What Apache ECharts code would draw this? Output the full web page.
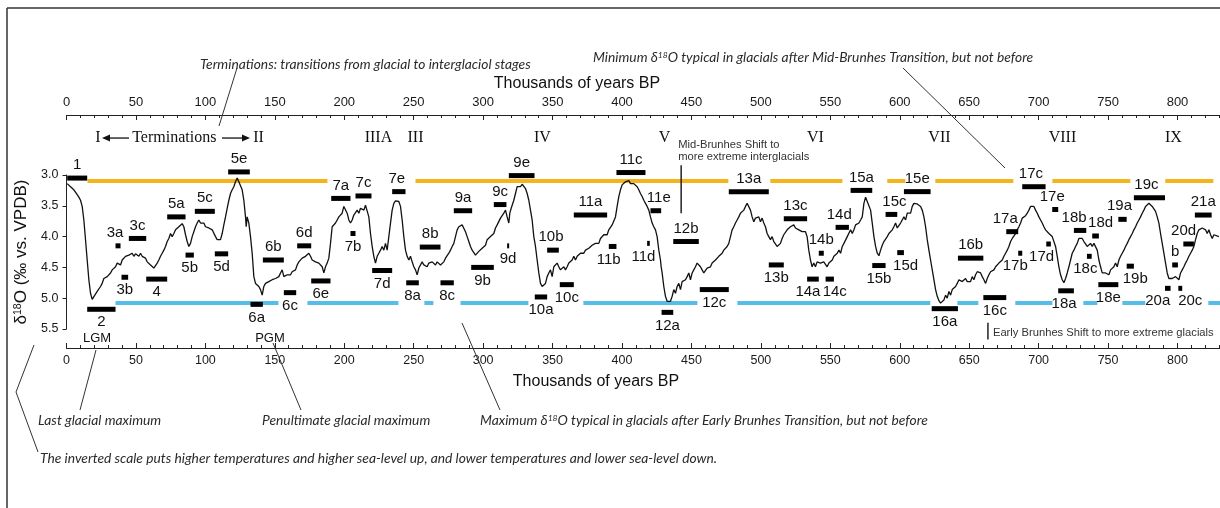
<!DOCTYPE html>
<html>
<head>
<meta charset="utf-8">
<script src="https://cdn.jsdelivr.net/npm/echarts@6.0.0/dist/echarts.min.js"></script>
<style>
  html, body { margin: 0; padding: 0; background: #fff; }
  #chart { width: 1220px; height: 508px; }
</style>
</head>
<body>
<div id="chart"></div>
<script>
// Benthic δ18O stack, 0–830 ka, in three pieces: [age (ka), δ18O (‰)]
const curve0to270 = [
  [0.5,3.14],[2.9,3.19],[5.3,3.24],[7.7,3.32],[8.9,3.36],[10.1,3.41],[11.3,3.51],[12.5,3.73],[13.7,4.05],[14.9,4.38],
  [16.1,4.70],[17.3,4.92],[18.5,5.02],[20.4,4.95],[22.1,4.89],[24.5,4.81],[25.7,4.76],[26.9,4.68],[28.1,4.70],[29.3,4.65],
  [30.5,4.62],[31.7,4.59],[32.9,4.54],[34.1,4.51],[35.3,4.49],[36.5,4.43],[37.7,4.41],[38.9,4.46],[40.1,4.38],[41.3,4.35],
  [42.5,4.32],[43.7,4.35],[44.9,4.30],[46.1,4.32],[47.3,4.27],[48.5,4.32],[49.7,4.28],[50.9,4.31],[52.1,4.32],[53.3,4.27],
  [54.5,4.32],[55.7,4.30],[56.9,4.35],[58.1,4.41],[59.3,4.38],[60.5,4.46],[61.7,4.49],[62.9,4.51],[64.1,4.54],[65.3,4.43],
  [66.5,4.38],[67.7,4.32],[68.9,4.27],[70.1,4.22],[71.3,4.16],[72.5,4.08],[73.7,4.03],[74.9,3.95],[76.1,4.00],[77.3,3.95],
  [78.5,3.89],[79.7,3.86],[80.9,3.84],[82.1,3.81],[83.3,3.79],[84.5,3.84],[85.7,3.97],[86.9,4.08],[88.1,4.16],[89.3,4.11],
  [90.5,4.00],[91.7,3.92],[92.9,3.84],[94.1,3.78],[95.3,3.73],[96.5,3.78],[97.7,3.81],[98.9,3.78],[100.1,3.84],[101.3,3.81],
  [102.5,3.86],[103.7,3.84],[104.9,3.89],[106.1,3.92],[107.3,4.00],[108.5,4.05],[109.7,4.08],[110.9,4.05],[112.1,3.95],[113.3,3.81],
  [114.5,3.68],[115.7,3.54],[116.9,3.41],[118.1,3.30],[119.3,3.24],[120.5,3.19],[121.7,3.11],[122.9,3.05],[124.1,3.11],[125.3,3.08],
  [126.5,3.24],[127.7,3.41],[128.9,3.68],[129.4,3.84],[130.1,3.68],[131.3,3.78],[132.5,4.00],[133.7,4.27],[134.9,4.65],[136.1,4.76],
  [137.3,4.78],[138.5,4.81],[139.7,4.86],[140.9,4.95],[142.1,4.81],[143.3,4.76],[144.5,4.78],[145.7,4.73],[146.9,4.76],[148.1,4.70],
  [149.3,4.73],[150.5,4.68],[151.7,4.70],[152.9,4.65],[154.1,4.59],[155.3,4.54],[156.5,4.65],[157.7,4.68],[158.9,4.62],[160.1,4.65],
  [161.3,4.62],[162.5,4.57],[163.7,4.59],[164.9,4.54],[166.1,4.46],[167.3,4.41],[168.5,4.43],[169.7,4.35],[170.9,4.38],[172.1,4.32],
  [173.3,4.35],[174.5,4.27],[175.7,4.32],[176.9,4.38],[178.1,4.35],[179.3,4.41],[180.5,4.38],[181.7,4.43],[182.9,4.41],[184.1,4.49],
  [185.3,4.59],[186.5,4.49],[187.7,4.43],[188.9,4.35],[190.1,4.11],[191.3,3.84],[192.5,3.81],[193.7,3.78],[194.9,3.73],[196.1,3.68],
  [197.3,3.68],[198.5,3.62],[199.7,3.51],[200.9,3.54],[202.1,3.62],[203.3,3.73],[204.5,3.78],[205.7,3.73],[206.9,3.65],[208.1,3.62],
  [209.3,3.57],[210.5,3.62],[211.7,3.54],[212.9,3.51],[214.1,3.57],[215.3,3.49],[216.5,3.46],[217.7,3.68],[218.9,3.95],[220.1,4.16],
  [221.3,4.32],[222.5,4.43],[223.7,4.32],[224.9,4.27],[226.1,4.22],[227.3,4.16],[228.5,4.22],[229.7,4.11],[230.9,4.22],[232.1,4.00],
  [233.3,3.78],[234.5,3.57],[235.7,3.46],[236.9,3.42],[238.1,3.41],[239.3,3.43],[240.5,3.51],[241.7,3.73],[242.9,4.00],[244.1,4.22],
  [245.3,4.32],[246.5,4.38],[247.7,4.32],[248.9,4.41],[250.1,4.49],[251.3,4.54],[252.5,4.62],[253.7,4.51],[254.9,4.49],[256.1,4.41],
  [257.3,4.46],[258.5,4.43],[259.7,4.49],[260.9,4.43],[262.1,4.46],[263.3,4.41],[264.5,4.43],[265.7,4.46],[266.9,4.41],[268.1,4.43]
];
const curve270to550 = [
  [269.3,4.46],[270.5,4.43],[271.7,4.41],[272.9,4.35],[274.1,4.32],[275.3,4.27],[276.5,4.22],[277.7,4.16],[278.9,4.11],[280.1,4.00],
  [281.3,3.89],[282.5,3.84],[283.7,3.81],[284.9,3.81],[286.1,3.84],[287.3,3.92],[288.5,4.00],[289.7,4.08],[290.9,4.16],[292.1,4.22],
  [293.3,4.24],[294.5,4.30],[295.7,4.27],[296.9,4.24],[298.1,4.27],[299.3,4.19],[300.5,4.16],[301.7,4.14],[302.9,4.05],[304.1,4.03],
  [305.3,4.00],[306.5,4.03],[307.7,3.95],[308.9,3.86],[310.1,3.81],[311.3,3.78],[312.5,3.70],[313.7,3.68],[314.9,3.62],[316.1,3.57],
  [317.3,3.68],[318.5,3.78],[319.2,3.62],[320.2,3.54],[320.9,3.51],[322.1,3.41],[323.3,3.30],[324.5,3.19],[325.7,3.16],[326.9,3.19],
  [328.1,3.15],[329.3,3.16],[330.5,3.22],[331.7,3.30],[332.9,3.41],[334.1,3.57],[335.3,3.73],[336.5,4.00],[337.7,4.16],[338.9,4.38],
  [340.1,4.59],[341.3,4.76],[342.5,4.81],[343.7,4.78],[344.9,4.76],[346.1,4.65],[347.3,4.59],[348.5,4.54],[349.7,4.65],[350.9,4.49],
  [352.1,4.51],[353.3,4.43],[354.5,4.49],[355.7,4.54],[356.9,4.51],[358.1,4.49],[359.3,4.54],[360.5,4.49],[361.7,4.43],[362.9,4.41],
  [364.1,4.38],[365.3,4.32],[366.5,4.38],[367.7,4.32],[368.9,4.35],[370.1,4.27],[371.3,4.24],[372.5,4.27],[373.7,4.22],[374.9,4.24],
  [376.1,4.19],[377.3,4.16],[378.5,4.14],[379.7,4.16],[380.9,4.11],[382.1,4.08],[383.3,4.11],[384.5,4.03],[385.7,4.00],[386.9,3.97],
  [388.1,3.95],[389.3,3.97],[390.5,3.89],[391.7,3.86],[392.9,3.81],[394.1,3.78],[395.3,3.68],[396.5,3.51],[397.7,3.35],[398.9,3.24],
  [400.1,3.16],[401.3,3.14],[402.5,3.11],[403.7,3.12],[404.9,3.09],[406.1,3.14],[407.3,3.12],[408.5,3.14],[409.7,3.16],[410.9,3.19],
  [412.1,3.24],[413.3,3.30],[414.5,3.35],[415.7,3.41],[416.9,3.46],[418.1,3.51],[419.3,3.57],[420.5,3.68],[421.7,3.78],[422.9,3.84],
  [424.1,3.89],[425.3,4.00],[426.5,4.22],[427.7,4.38],[428.2,4.49],[428.9,4.59],[430.1,4.81],[431.3,4.97],[432.5,5.05],[433.7,5.08],
  [434.9,5.05],[436.1,4.97],[437.3,4.86],[438.5,4.92],[439.7,4.81],[440.9,4.76],[442.1,4.86],[443.3,4.73],[444.5,4.76],[445.7,4.70],
  [446.9,4.65],[448.1,4.59],[449.3,4.70],[450.5,4.59],[451.7,4.54],[452.9,4.49],[454.1,4.43],[455.3,4.41],[456.5,4.49],[457.7,4.54],
  [458.9,4.59],[460.1,4.57],[461.3,4.51],[462.5,4.54],[463.7,4.49],[464.9,4.43],[466.1,4.46],[467.3,4.38],[468.5,4.41],[469.7,4.32],
  [470.9,4.35],[472.1,4.27],[473.3,4.22],[474.5,4.24],[475.7,4.16],[476.9,4.11],[478.1,4.00],[479.3,3.89],[480.5,3.84],[481.7,3.78],
  [482.9,3.73],[484.1,3.68],[485.3,3.62],[486.5,3.59],[487.7,3.57],[488.9,3.51],[490.1,3.46],[491.3,3.43],[492.5,3.57],[493.7,3.68],
  [494.9,3.76],[496.1,3.70],[497.3,3.73],[498.5,3.68],[499.7,3.76],[500.9,3.70],[502.1,3.78],[503.3,3.84],[504.5,3.95],[505.7,4.00],
  [506.9,4.05],[508.1,4.00],[509.3,4.08],[510.5,4.11],[511.7,4.16],[512.9,4.19],[514.1,4.11],[515.3,4.03],[516.5,3.97],[517.7,3.95],
  [518.9,3.89],[520.1,3.86],[521.3,3.84],[522.5,3.86],[523.7,3.81],[524.9,3.86],[526.1,3.84],[527.3,3.89],[528.5,3.86],[529.7,3.92],
  [530.9,3.89],[532.1,3.92],[533.3,4.00],[534.5,4.22],[535.7,4.38],[536.9,4.49],[538.1,4.43],[539.3,4.49],[540.5,4.41],[542.9,4.43],
  [545.3,4.41],[547.7,4.49]
];
const curve550to830 = [
  [549.0,4.43],[550.2,4.46],[551.4,4.38],[552.6,4.32],[553.8,4.35],[555.0,4.27],[556.2,4.22],[557.4,4.27],[558.6,4.16],[559.8,4.11],
  [561.0,4.08],[562.2,4.00],[563.4,3.97],[564.6,3.89],[565.8,3.95],[567.0,3.89],[568.2,3.81],[569.4,3.84],[570.6,3.78],[571.8,3.73],
  [573.0,3.68],[574.2,3.46],[575.4,3.36],[576.6,3.43],[577.8,3.41],[579.0,3.57],[580.2,3.78],[581.4,4.00],[582.6,4.16],[583.8,4.27],
  [585.0,4.31],[586.2,4.22],[587.4,4.14],[588.6,4.08],[589.8,4.05],[591.0,4.00],[592.2,3.95],[593.4,3.97],[594.6,3.89],[595.8,3.84],
  [597.0,3.78],[598.2,3.86],[599.4,3.89],[600.6,3.78],[601.8,3.76],[603.0,3.68],[604.2,3.73],[605.4,3.62],[606.6,3.59],[607.8,3.62],
  [609.0,3.51],[610.2,3.46],[611.4,3.47],[612.6,3.47],[613.8,3.49],[615.0,3.51],[616.2,3.57],[617.4,3.68],[618.6,3.84],[619.8,4.05],
  [621.0,4.22],[622.2,4.38],[623.4,4.54],[624.6,4.70],[625.8,4.86],[627.0,4.97],[628.2,5.04],[629.4,5.08],[630.6,5.05],[631.8,5.03],
  [633.0,4.95],[634.2,5.00],[635.4,4.89],[636.6,4.95],[637.8,4.86],[639.0,4.89],[640.2,4.81],[641.4,4.76],[642.6,4.70],[643.8,4.68],
  [645.0,4.73],[646.2,4.70],[647.4,4.68],[648.6,4.73],[649.8,4.70],[651.0,4.73],[652.2,4.65],[653.4,4.70],[654.6,4.62],[655.8,4.57],
  [657.0,4.54],[658.2,4.59],[659.4,4.65],[660.6,4.70],[661.8,4.76],[663.0,4.68],[664.2,4.62],[665.4,4.57],[666.6,4.59],[667.8,4.54],
  [669.0,4.49],[670.2,4.51],[671.4,4.43],[672.6,4.46],[673.8,4.38],[675.0,4.32],[676.2,4.27],[677.4,4.22],[678.6,4.16],[679.8,4.08],
  [681.0,4.03],[682.2,4.05],[683.4,3.95],[684.6,3.89],[685.8,3.84],[687.0,3.78],[688.2,3.70],[689.4,3.68],[690.6,3.66],[691.8,3.62],
  [693.0,3.57],[694.2,3.51],[695.4,3.48],[696.6,3.51],[697.8,3.57],[699.0,3.62],[700.2,3.68],[701.4,3.73],[702.6,3.78],[703.8,3.84],
  [705.0,3.89],[706.2,3.92],[707.4,3.95],[708.6,3.97],[709.8,4.00],[711.0,4.03],[712.2,4.16],[713.4,4.32],[714.6,4.49],[715.8,4.62],
  [717.0,4.70],[718.2,4.75],[719.4,4.68],[720.6,4.59],[721.8,4.49],[723.0,4.38],[724.2,4.27],[725.4,4.22],[726.6,4.16],[727.8,4.11],
  [729.0,4.03],[730.2,4.00],[731.4,4.03],[732.6,4.08],[733.8,4.11],[735.0,4.16],[736.2,4.14],[737.4,4.11],[738.6,4.16],[739.8,4.11],
  [741.0,4.08],[742.2,4.22],[743.4,4.38],[744.6,4.49],[745.8,4.59],[747.0,4.62],[748.2,4.59],[749.4,4.57],[750.6,4.62],[751.8,4.54],
  [753.0,4.57],[754.2,4.49],[755.4,4.43],[756.6,4.49],[757.8,4.38],[759.0,4.32],[760.2,4.27],[761.4,4.22],[762.6,4.16],[763.8,4.11],
  [765.0,4.05],[766.2,4.00],[767.4,3.95],[768.6,3.89],[769.8,3.84],[771.0,3.78],[772.2,3.73],[773.4,3.68],[774.6,3.62],[775.8,3.57],
  [777.0,3.51],[778.2,3.49],[779.4,3.46],[780.6,3.49],[781.8,3.51],[783.0,3.54],[784.2,3.59],[785.4,3.68],[786.6,3.78],[787.8,3.95],
  [789.0,4.11],[790.2,4.27],[791.4,4.43],[792.6,4.59],[793.8,4.68],[795.0,4.65],[796.2,4.68],[797.4,4.65],[798.6,4.65],[799.8,4.68],
  [801.0,4.70],[802.2,4.59],[803.4,4.54],[804.6,4.49],[805.8,4.43],[807.0,4.38],[808.2,4.32],[809.4,4.27],[810.6,4.22],[811.8,4.16],
  [813.0,4.05],[814.2,3.95],[815.4,3.89],[816.6,3.92],[817.8,3.86],[819.0,3.84],[820.2,3.89],[821.4,3.95],[822.6,3.89],[823.8,3.97],
  [825.0,4.03],[826.2,3.97],[827.4,3.95],[829.8,4.00]
];

// Marine isotope (sub)stages: name, age span (ka) and δ18O level of the marker bar
const stageNames = ['1','2','3a','3b','3c','4','5a','5b','5c','5d','5e','6a','6b','6c','6d','6e','7a','7b','7c','7d','7e','8a','8b','8c',
  '9a','9b','9c','9d','9e','10a','10b','10c','11a','11b','11c','11d','11e','12a','12b','12c','13a','13b','13c','14a','14b','14c','14d',
  '15a','15b','15c','15d','15e','16a','16b','16c','17a','17b','17c','17d','17e','18a','18b','18c','18d','18e','19a','19b','19c',
  '20a','b','20c','20d','21a'];
const stageStart = [0.5,14.9,35.3,39.6,44.9,57.4,72.5,85.7,92.4,106.8,116.4,132.5,141.4,156.5,166.1,176.2,190.6,204.5,208.1,220.1,234.5,244.6,254.4,269.3,
  278.9,291.4,307.7,317.3,318.5,337.2,346.1,355.2,365.3,390.5,396.0,418.1,420.5,428.5,436.9,456.0,476.9,505.7,516.5,533.3,541.7,546.6,553.8,
  564.6,580.2,589.8,598.2,603.0,623.0,641.9,660.2,676.7,685.3,688.2,705.5,709.8,714.1,725.4,734.8,738.6,743.0,757.4,763.4,768.6,
  791.0,796.2,800.6,804.2,812.5];
const stageEnd = [14.9,35.3,38.9,44.4,57.4,72.5,85.7,91.7,106.8,116.4,132.0,141.4,156.5,165.4,176.2,190.1,204.5,208.1,219.6,234.5,244.1,253.7,269.3,278.9,
  292.1,307.7,316.8,318.7,337.0,346.1,354.5,365.3,389.3,396.0,416.9,420.0,428.2,436.9,455.3,476.9,505.7,516.5,533.3,541.7,545.3,552.6,563.4,
  580.2,589.8,598.2,603.0,622.2,641.9,660.2,676.7,685.3,688.2,705.0,708.8,714.1,725.4,734.3,738.2,743.4,757.4,763.4,768.6,791.0,
  795.0,800.3,803.4,811.8,824.6];
const stageLevel = [3.05,5.18,4.15,4.66,4.03,4.69,3.68,4.30,3.59,4.28,2.95,5.10,4.38,4.91,4.15,4.72,3.38,3.95,3.34,4.55,3.27,4.75,4.17,4.75,
  3.58,4.50,3.48,4.15,3.01,4.98,4.22,4.78,3.65,4.16,2.96,4.11,3.58,5.23,4.08,4.86,3.27,4.46,3.71,4.69,4.27,4.69,3.85,
  3.25,4.47,3.64,4.26,3.27,5.17,4.35,4.99,3.92,4.27,3.19,4.12,3.56,4.88,3.90,4.32,3.99,4.78,3.72,4.48,3.37,
  4.84,4.46,4.84,4.12,3.65];

// Reference levels (‰) and the age spans (ka) along which they are drawn
const interglacialLevel = 3.09;
const glacialLevel = 5.07;
const interglacialSpans = [[15.1,187.9],[251.3,476.6],[506.8,558.7],[591.0,604.0],[625.6,681.8],[709.9,766.0],[791.2,825.8]];
const glacialSpans = [[35.3,152.6],[173.5,239.0],[257.7,264.2],[283.7,332.6],[372.2,454.3],[483.1,622.0],[641.5,656.6],
  [683.2,709.9],[732.2,742.3],[760.3,776.8],[822.2,831.0]];

// Terminations
const terminationNames = ['I','II','IIIA','III','IV','V','VI','VII','VIII','IX'];
const terminationAges = [22.7,138.3,224.6,251.3,342.7,430.6,539.3,628.6,717.2,797.1];

// Glacial maxima
const maximumNames = ['LGM','PGM'];
const maximumAges = [22.0,146.5];

// Brunhes shifts: age, vertical extent of the marker (‰), text lines
const shiftAges = [442.6, 663.5];
const shiftFrom = [2.84, 5.40];
const shiftTo = [3.62, 5.67];
const shiftTexts = [['Mid-Brunhes Shift to', 'more extreme interglacials'], ['Early Brunhes Shift to more extreme glacials']];

// ---- layout of the stage labels: side of the bar and horizontal nudge (px)
const labelAbove = new Set(['1','3a','3c','5a','5c','5e','6b','6d','7a','7c','7e','8b','9a','9c','9e','10b','11a','11c','11e','12b',
  '13a','13c','14b','14d','15a','15c','15e','16b','17a','17c','17e','18b','18d','19a','19c','b','20d','21a']);
const labelNudge = {'3a':-3,'7e':-2,'10b':-2,'11b':-4,'11d':-5,'11e':3,'14a':-5,'14c':5,'14d':-3,'15c':3,'15d':5,'17a':-7,'17b':-5,
  '17c':-3,'17d':-7,'17e':-3,'18a':-2,'18b':-6,'18c':-4,'18d':5,'19a':-3,'19b':5,'19c':-3,'20a':-10,'20c':10,'20d':-5};

const SANS = '"Liberation Sans", Arial, Helvetica, sans-serif';
const SERIF = '"Liberation Serif", "Times New Roman", serif';
const HAND = 'Lato, "Open Sans", sans-serif';
const INK = '#111';
const KA_MAX = 850;
const PX_PER_KA = 1111 / 800;

const chart = echarts.init(document.getElementById('chart'), null, { renderer: 'canvas' });

function timeAxis(position, offset) {
  return {
    type: 'value', position: position, offset: offset, min: 0, max: KA_MAX, interval: 50,
    axisLine: { show: true, onZero: false, lineStyle: { color: '#222', width: 1 } },
    axisTick: { show: true, inside: true, length: 5, lineStyle: { color: '#222', width: 1 } },
    minorTick: { show: true, splitNumber: 5, length: 3, lineStyle: { color: '#222', width: 1 } },
    axisLabel: { show: true, margin: 6, color: '#1a1a1a', fontFamily: SANS, fontSize: position === 'top' ? 13 : 12.5,
      formatter: v => (v % 50 === 0 && v <= 800) ? String(v) : '' },
    splitLine: { show: false }
  };
}

const option = {
  animation: false,
  backgroundColor: '#fff',
  grid: { left: 66.5, top: 175, width: KA_MAX * PX_PER_KA, height: 154, containLabel: false, outerBoundsMode: 'none' },
  xAxis: [timeAxis('bottom', 19), timeAxis('top', 60)],
  yAxis: {
    type: 'value', inverse: true, min: 3.0, max: 5.5, interval: 0.5,
    axisLine: { show: true, lineStyle: { color: '#222', width: 1 } },
    axisTick: { show: true, inside: false, length: 4, lineStyle: { color: '#222' } },
    axisLabel: { margin: 8, color: '#1a1a1a', fontFamily: SANS, fontSize: 12.5, formatter: v => v.toFixed(1) },
    splitLine: { show: false },
    name: '{a|δ}{s|18}{a|O (‰ vs. VPDB)}',
    nameLocation: 'middle', nameRotate: 90, nameGap: 35,
    nameTextStyle: {
      rich: {
        a: { fontFamily: SANS, fontSize: 17, color: INK, lineHeight: 19 },
        s: { fontFamily: SANS, fontSize: 10.5, color: INK, verticalAlign: 'top', lineHeight: 19 }
      }
    }
  },
  series: [
    {
      name: 'interglacial level', type: 'lines', coordinateSystem: 'cartesian2d', xAxisIndex: 0, yAxisIndex: 0,
      z: 2, silent: true,
      lineStyle: { color: '#F5B41C', width: 4, opacity: 1 },
      data: interglacialSpans.map(s => ({ coords: [[s[0], interglacialLevel], [s[1], interglacialLevel]] }))
    },
    {
      name: 'glacial level', type: 'lines', coordinateSystem: 'cartesian2d', xAxisIndex: 0, yAxisIndex: 0,
      z: 2, silent: true,
      lineStyle: { color: '#56BDE8', width: 4, opacity: 1 },
      data: glacialSpans.map(s => ({ coords: [[s[0], glacialLevel], [s[1], glacialLevel]] }))
    },
    {
      name: 'δ18O', type: 'line', xAxisIndex: 0, yAxisIndex: 0, z: 4,
      showSymbol: false, symbol: 'none', clip: false,
      lineStyle: { color: INK, width: 1.3 },
      data: curve0to270.concat(curve270to550, curve550to830)
    },
    {
      name: 'stages', type: 'custom', xAxisIndex: 0, yAxisIndex: 0, z: 6, clip: false, silent: true,
      data: stageNames.map((n, i) => [stageStart[i], stageEnd[i], stageLevel[i], i]),
      encode: { x: [0, 1], y: 2 },
      renderItem: function (params, api) {
        const i = api.value(3);
        const name = stageNames[i];
        const a = api.coord([api.value(0), api.value(2)]);
        const b = api.coord([api.value(1), api.value(2)]);
        const above = labelAbove.has(name);
        const cx = (a[0] + b[0]) / 2 + (labelNudge[name] || 0);
        return {
          type: 'group',
          children: [
            { type: 'rect', shape: { x: a[0], y: a[1] - 2.5, width: Math.max(b[0] - a[0], 2), height: 5 }, style: { fill: '#000' } },
            { type: 'text', x: cx, y: above ? a[1] - 13 : a[1] + 13,
              style: { text: name, font: '15px ' + SANS, fill: INK, align: 'center', verticalAlign: 'middle',
                textAlign: 'center', textVerticalAlign: 'middle' } }
          ]
        };
      }
    },
    {
      name: 'terminations', type: 'custom', xAxisIndex: 0, yAxisIndex: 0, z: 6, clip: false, silent: true,
      data: terminationAges.map((t, i) => [t, 3.0, i]),
      encode: { x: 0, y: 1 },
      renderItem: function (params, api) {
        const p = api.coord([api.value(0), 2.40]);
        return { type: 'text', x: p[0], y: p[1],
          style: { text: terminationNames[api.value(2)], font: '16px ' + SERIF, fill: INK, align: 'center', verticalAlign: 'middle',
            textAlign: 'center', textVerticalAlign: 'middle' } };
      }
    },
    {
      name: 'glacial maxima', type: 'custom', xAxisIndex: 0, yAxisIndex: 0, z: 6, clip: false, silent: true,
      data: maximumAges.map((t, i) => [t, 5.5, i]),
      encode: { x: 0, y: 1 },
      renderItem: function (params, api) {
        const p = api.coord([api.value(0), 5.66]);
        return { type: 'text', x: p[0], y: p[1],
          style: { text: maximumNames[api.value(2)], font: '13px ' + SANS, fill: INK, align: 'center', verticalAlign: 'middle',
            textAlign: 'center', textVerticalAlign: 'middle' } };
      }
    },
    {
      name: 'Brunhes shifts', type: 'custom', xAxisIndex: 0, yAxisIndex: 0, z: 6, clip: false, silent: true,
      data: shiftAges.map((t, i) => [t, shiftFrom[i], shiftTo[i], i]),
      encode: { x: 0, y: [1, 2] },
      renderItem: function (params, api) {
        const i = api.value(3);
        const top = api.coord([api.value(0), api.value(1)]);
        const bot = api.coord([api.value(0), api.value(2)]);
        const children = [{ type: 'line', shape: { x1: top[0], y1: top[1], x2: bot[0], y2: bot[1] },
          style: { stroke: '#222', lineWidth: 1.5 } }];
        const lines = shiftTexts[i];
        if (i === 0) {
          lines.forEach((t, k) => children.push({ type: 'text', x: top[0] - 3, y: top[1] - 8 - (lines.length - 1 - k) * 12.5,
            style: { text: t, font: '11.2px ' + SANS, fill: '#333', align: 'left', verticalAlign: 'middle',
              textAlign: 'left', textVerticalAlign: 'middle' } }));
        } else {
          children.push({ type: 'text', x: top[0] + 5, y: (top[1] + bot[1]) / 2 + 2,
            style: { text: lines[0], font: '11.2px ' + SANS, fill: '#333', align: 'left', verticalAlign: 'middle',
              textAlign: 'left', textVerticalAlign: 'middle' } });
        }
        return { type: 'group', children: children };
      }
    }
  ],
  graphic: []
};

chart.setOption(option);

// Free annotations around the plot
const NOTE_FONT = 'italic 13.8px ' + HAND;
function note(x, y, parts) {
  return { type: 'text', x: x, y: y, silent: true, z: 10,
    style: { text: parts, font: NOTE_FONT, fill: '#2a2a2a', align: 'left', verticalAlign: 'middle',
      textAlign: 'left', textVerticalAlign: 'middle',
      rich: { s: { font: 'italic 8.5px ' + HAND, fill: '#2a2a2a', verticalAlign: 'top', lineHeight: 15 },
              a: { font: NOTE_FONT, fill: '#2a2a2a', lineHeight: 15 } } } };
}
function leader(points) {
  return { type: 'polyline', silent: true, z: 10, shape: { points: points }, style: { stroke: '#333', lineWidth: 1, fill: null } };
}
function arrowHead(x, y, dir) {
  return { type: 'polygon', silent: true, z: 10,
    shape: { points: [[x, y], [x - dir * 8, y - 3.5], [x - dir * 8, y + 3.5]] }, style: { fill: INK } };
}

const termY = chart.convertToPixel({ xAxisIndex: 0, yAxisIndex: 0 }, [0, 2.40])[1];
const xOf = ka => chart.convertToPixel({ xAxisIndex: 0, yAxisIndex: 0 }, [ka, 3.0])[0];

chart.setOption({
  graphic: [
    // frame
    { type: 'line', silent: true, shape: { x1: 7, y1: 8, x2: 1220, y2: 8 }, style: { stroke: '#333', lineWidth: 1.5 } },
    { type: 'line', silent: true, shape: { x1: 7, y1: 8, x2: 7, y2: 508 }, style: { stroke: '#333', lineWidth: 1.5 } },
    // axis titles
    { type: 'text', silent: true, x: 577, y: 84,
      style: { text: 'Thousands of years BP', font: '16px ' + SANS, fill: INK, align: 'center', verticalAlign: 'middle', textAlign: 'center', textVerticalAlign: 'middle' } },
    { type: 'text', silent: true, x: 596, y: 382,
      style: { text: 'Thousands of years BP', font: '16px ' + SANS, fill: INK, align: 'center', verticalAlign: 'middle', textAlign: 'center', textVerticalAlign: 'middle' } },
    // "I <-- Terminations --> II"
    { type: 'text', silent: true, x: (xOf(terminationAges[0]) + xOf(terminationAges[1])) / 2 - 4, y: termY,
      style: { text: 'Terminations', font: '16px ' + SERIF, fill: INK, align: 'center', verticalAlign: 'middle', textAlign: 'center', textVerticalAlign: 'middle' } },
    { type: 'line', silent: true, shape: { x1: 129, y1: termY, x2: 108, y2: termY }, style: { stroke: INK, lineWidth: 1.3 } },
    arrowHead(102, termY, -1),
    { type: 'line', silent: true, shape: { x1: 222, y1: termY, x2: 244, y2: termY }, style: { stroke: INK, lineWidth: 1.3 } },
    arrowHead(250, termY, 1),
    // notes
    note(200, 65, 'Terminations: transitions from glacial to interglaciol stages'),
    leader([[237, 68], [219, 126]]),
    note(593, 58, '{a|Minimum δ}{s|18}{a|O typical in glacials after Mid-Brunhes Transition, but not before}'),
    leader([[903, 68], [1005, 168]]),
    note(38, 421, 'Last glacial maximum'),
    leader([[96, 350], [80, 410]]),
    note(262, 421, 'Penultimate glacial maximum'),
    leader([[273, 343], [301, 410]]),
    note(480, 421, '{a|Maximum δ}{s|18}{a|O typical in glacials after Early Brunhes Transition, but not before}'),
    leader([[462, 323], [500, 410]]),
    note(40, 459, 'The inverted scale puts higher temperatures and higher sea-level up, and lower temperatures and lower sea-level down.'),
    leader([[34, 345], [16, 392], [38, 452]])
  ]
});
</script>
</body>
</html>
